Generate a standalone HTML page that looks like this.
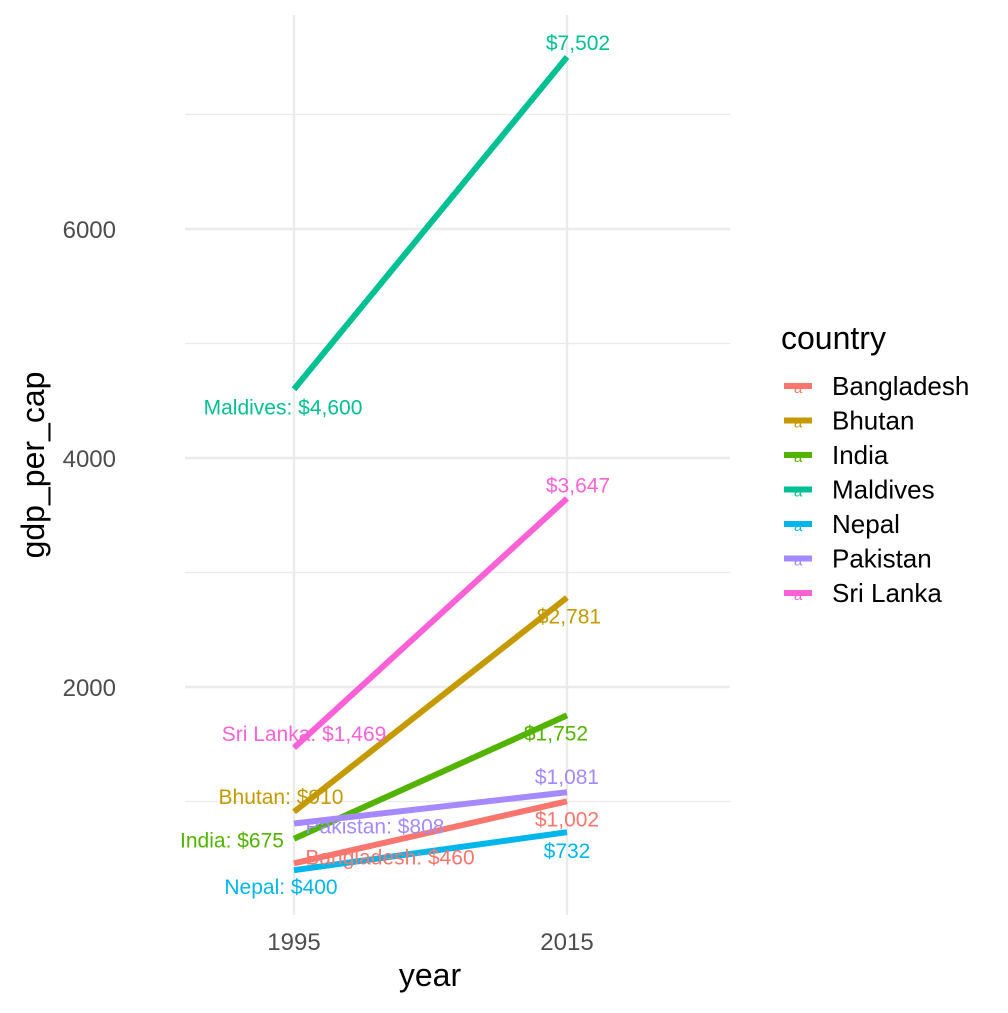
<!DOCTYPE html>
<html><head><meta charset="utf-8"><style>
body{margin:0;background:#fff}
svg{font-family:"Liberation Sans",Arial,sans-serif}
</style></head><body>
<svg id="chart" width="1008" height="1008" viewBox="0 0 1008 1008" xmlns="http://www.w3.org/2000/svg">
<rect width="1008" height="1008" fill="#fff"/>
<g id="grid"></g><g id="lines"></g><g id="labels"></g><g id="axes"></g><g id="legend"></g>
</svg>
<script>
const countries=["Bangladesh","Bhutan","India","Maldives","Nepal","Pakistan","Sri Lanka"];
const colors=["#F8766D","#C49A00","#53B400","#00C094","#00B6EB","#A58AFF","#FB61D7"];
const years=[1995,2015];
const gdp1995=[460,910,675,4600,400,808,1469];
const gdp2015=[1002,2781,1752,7502,732,1081,3647];
const yTicks=[2000,4000,6000];
const yMinor=[1000,3000,5000,7000];
const labelText1995=["Bangladesh: $460","Bhutan: $910","India: $675","Maldives: $4,600","Nepal: $400","Pakistan: $808","Sri Lanka: $1,469"];
const labelText2015=["$1,002","$2,781","$1,752","$7,502","$732","$1,081","$3,647"];
// repel nudges (pixels) for labels
const nudge1995=[[96,-6],[-13,-15],[-62,2],[-11,18],[-13,17],[81,3],[10,-14]];
const nudge2015=[[0,18],[2,19],[-11,18],[11,-14],[0,19],[0,-15],[11,-13]];
const X=v=>294+(v-1995)*(567-294)/20;
const Y=v=>916-v*(229/2000);
const NS="http://www.w3.org/2000/svg";
function mk(t,a,p,txt){const e=document.createElementNS(NS,t);for(const k in a)e.setAttribute(k,a[k]);if(txt!==undefined)e.textContent=txt;p.appendChild(e);return e;}
const g=document.getElementById('grid'),L=document.getElementById('lines'),Lb=document.getElementById('labels'),A=document.getElementById('axes'),Lg=document.getElementById('legend');
const px0=185,px1=730,py0=15,py1=915;
yMinor.forEach(v=>{const e=mk('line',{x1:px0,x2:px1,y1:Y(v),y2:Y(v),stroke:'#ebebeb','stroke-width':1.2},g);

});
yTicks.forEach(v=>{const e=mk('line',{x1:px0,x2:px1,y1:Y(v),y2:Y(v),stroke:'#ebebeb','stroke-width':2.4},g);


const t=mk('text',{x:116,y:Y(v)+9,'text-anchor':'end','font-size':24,fill:'#4d4d4d'},A,String(v));

});
years.forEach(v=>{const e=mk('line',{x1:X(v),x2:X(v),y1:py0,y2:py1,stroke:'#ebebeb','stroke-width':2.4},g);


const t=mk('text',{x:X(v),y:950,'text-anchor':'middle','font-size':24,fill:'#4d4d4d'},A,String(v));

});
countries.forEach((c,i)=>{
const l=mk('line',{x1:X(1995),y1:Y(gdp1995[i]),x2:X(2015),y2:Y(gdp2015[i]),stroke:colors[i],'stroke-width':6},L);


const t1=mk('text',{x:X(1995)+nudge1995[i][0],y:Y(gdp1995[i])+nudge1995[i][1]+7,'text-anchor':'middle','font-size':21,fill:colors[i]},Lb,labelText1995[i]);


const t2=mk('text',{x:X(2015)+nudge2015[i][0],y:Y(gdp2015[i])+nudge2015[i][1]+7,'text-anchor':'middle','font-size':21,fill:colors[i]},Lb,labelText2015[i]);


const y=386+i*34.5;
const k=mk('line',{x1:784,x2:812,y1:y,y2:y,stroke:colors[i],'stroke-width':6},Lg);


const ka=mk('text',{x:798,y:y+7,'text-anchor':'middle','font-size':15,fill:colors[i]},Lg,'a');


const lt=mk('text',{x:832,y:y+9,'font-size':26,fill:'#000'},Lg,c);


});
const lt=mk('text',{x:781,y:349,'font-size':32,fill:'#000'},Lg,'country');


const xt=mk('text',{x:430,y:986,'text-anchor':'middle','font-size':32,fill:'#000'},A,'year');


const yt=mk('text',{x:0,y:0,'text-anchor':'middle','font-size':32,fill:'#000',transform:'translate(44,465) rotate(-90)'},A,'gdp_per_cap');


</script>
</body></html>
